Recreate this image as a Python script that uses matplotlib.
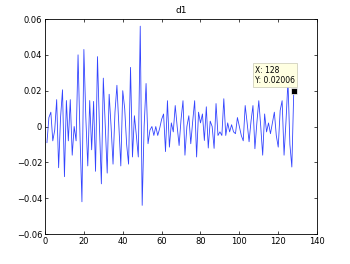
import numpy as np
import matplotlib
matplotlib.use('Agg')
import matplotlib.pyplot as plt

# detail coefficients d1
d1 = [-0.009, 0.005, 0.008, -0.008, -0.002, 0.015, -0.023, 0.005, 0.0205, -0.028,
      0.0145, -0.008, 0.015, -0.016, 0.0, -0.008, 0.040, -0.005, -0.042, 0.043,
      0.005, -0.022, 0.0145, -0.013, 0.014, -0.025, 0.039, 0.0, -0.032, 0.027,
      0.0, -0.026, 0.018, 0.0, -0.021, 0.008, 0.023, 0.0, -0.022, 0.020,
      0.010, -0.010, -0.021, 0.033, -0.017, 0.006, -0.005, -0.017, 0.056, -0.044,
      0.0, 0.024, -0.0096, -0.002, 0.0, -0.005, 0.0, -0.005, -0.001, 0.004,
      0.007, -0.014, 0.0144, -0.0115, 0.002, -0.003, 0.0117, 0.0, -0.0106, 0.004,
      0.0144, -0.016, 0.0, 0.006, -0.0096, 0.003, 0.0144, -0.017, 0.008, 0.002,
      0.007, -0.0078, 0.011, -0.012, 0.003, 0.0, -0.0122, 0.0128, -0.005, -0.003,
      -0.005, 0.0155, -0.005, 0.002, -0.003, 0.001, -0.003, -0.004, 0.005, 0.0,
      -0.005, -0.008, 0.0117, 0.002, -0.0085, 0.003, 0.0117, -0.0124, 0.002, 0.0144,
      0.0, -0.016, 0.007, -0.003, 0.002, -0.004, 0.002, 0.008, -0.005, -0.0115,
      0.009, 0.0144, -0.016, 0.003, 0.0255, -0.010, -0.0226, 0.02006]
x = np.arange(1, len(d1) + 1)

xticks = [0, 20, 40, 60, 80, 100, 120, 140]
yticks = [-0.06, -0.04, -0.02, 0, 0.02, 0.04, 0.06]
ylabels = ['\u22120.06', '\u22120.04', '\u22120.02', '0', '0.02', '0.04', '0.06']

fig = plt.figure(figsize=(3.5, 2.64), dpi=100)
ax = fig.add_axes([0.1286, 0.1136, 0.7774, 0.8144])
ax.plot(x, d1, color='#3344ff', lw=0.6)

ax.set_xlim(0, 140)
ax.set_ylim(-0.06, 0.06)
ax.set_xticks(xticks)
ax.set_yticks(yticks)
ax.set_yticklabels(ylabels)
ax.tick_params(direction='in', top=True, right=True, labelsize=6, length=2.5, width=0.5, pad=2)
for s in ax.spines.values():
    s.set_linewidth(0.6)
ax.set_title('d1', fontsize=6.5, pad=4)

# data tip on the last point
ax.plot(x[-1], d1[-1], 's', color='black', ms=4, mec='white', mew=0.5)
ax.annotate('X: %d\nY: %.5g' % (x[-1], d1[-1]), xy=(x[-1], d1[-1]), xytext=(-28, 4),
            textcoords='offset points', fontsize=5.5, ha='left', va='bottom',
            bbox=dict(boxstyle='square,pad=0.3', fc='#ffffe1', ec='#c8c8b4', lw=0.5))

fig.savefig('out.png', dpi=100)
